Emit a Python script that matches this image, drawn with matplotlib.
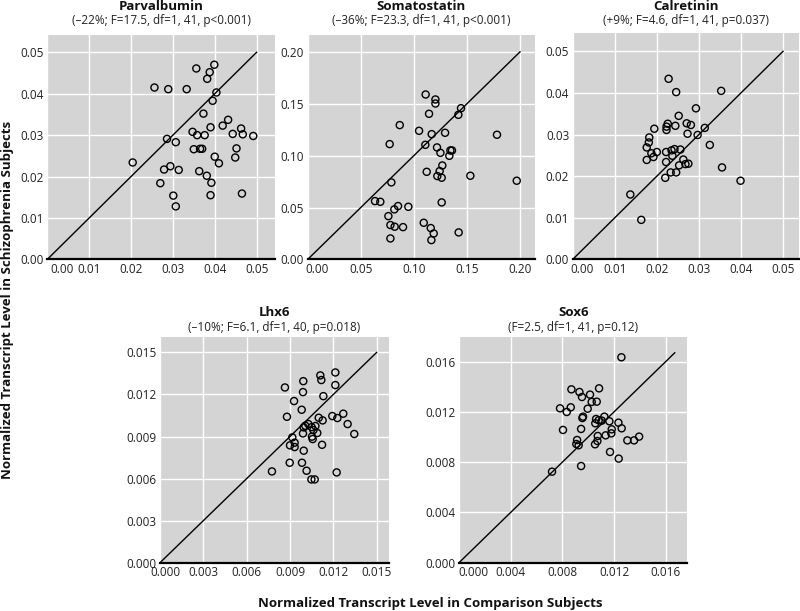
import matplotlib
matplotlib.use("Agg")
import matplotlib.pyplot as plt
import matplotlib.transforms as mtransforms

plt.rcParams['font.family'] = ['Open Sans', 'DejaVu Sans']

# ---------------- data ----------------
titles = ["Parvalbumin", "Somatostatin", "Calretinin", "Lhx6", "Sox6"]
subtitles = ["(\u201322%; F=17.5, df=1, 41, p<0.001)",
             "(\u201336%; F=23.3, df=1, 41, p<0.001)",
             "(+9%; F=4.6, df=1, 41, p=0.037)",
             "(\u201310%; F=6.1, df=1, 40, p=0.018)",
             "(F=2.5, df=1, 41, p=0.12)"]

parv_x = [20.4, 25.6, 28.9, 33.3, 35.6, 38.8, 39.9, 38.2, 40.4, 39.5, 37.3, 43.2, 41.9, 39.0,
          46.3, 44.3, 46.7, 49.2, 34.7, 35.8, 37.6, 28.6, 30.7, 35.0, 36.5, 37.0, 40.0, 45.2,
          44.9, 41.0, 29.4, 27.9, 31.4, 36.3, 38.1, 39.2, 27.0, 30.1, 39.0, 46.5, 30.7]
parv_y = [23.4, 41.5, 41.1, 41.1, 46.1, 45.2, 47.0, 43.6, 40.3, 38.3, 35.2, 33.7, 32.3, 31.9,
          31.6, 30.3, 30.2, 29.8, 30.8, 30.0, 30.0, 29.1, 28.3, 26.6, 26.7, 26.7, 24.8, 26.8,
          24.6, 23.2, 22.5, 21.7, 21.6, 21.3, 20.2, 18.5, 18.4, 15.4, 15.5, 15.9, 12.8]

som_x = [111.1, 120.3, 120.3, 114.3, 144.4, 141.9, 86.7, 104.9, 116.8, 129.4, 178.3, 77.2,
         110.8, 121.8, 125.0, 133.4, 134.4, 135.9, 126.8, 112.1, 124.3, 122.1, 126.2, 153.2,
         196.9, 78.8, 63.4, 68.4, 126.2, 85.1, 94.8, 81.6, 76.0, 77.9, 81.9, 89.8, 109.3,
         115.9, 118.7, 142.2, 77.9, 116.5]
som_y = [158.9, 154.1, 150.2, 140.3, 145.7, 139.3, 129.4, 123.9, 120.7, 122.0, 120.1, 111.1,
         110.4, 107.9, 102.7, 99.8, 105.0, 105.0, 90.5, 84.4, 85.1, 80.3, 78.7, 80.6,
         75.8, 74.2, 56.2, 55.5, 54.9, 51.4, 50.7, 48.2, 41.7, 33.1, 31.5, 31.1, 35.3,
         30.2, 25.0, 26.0, 20.2, 18.6]

cal_x = [22.8, 24.6, 35.3, 29.3, 25.2, 22.6, 22.3, 22.3, 24.4, 27.1, 28.1, 19.4, 31.4, 27.3,
         29.7, 18.2, 18.1, 17.6, 32.6, 18.7, 20.0, 22.2, 23.5, 24.2, 25.6, 23.7, 19.2, 17.6,
         22.2, 26.3, 25.3, 26.8, 27.5, 35.5, 23.3, 24.6, 22.0, 39.9, 13.7, 16.3]
cal_y = [43.4, 40.2, 40.5, 36.3, 34.5, 32.6, 31.9, 31.1, 32.1, 32.7, 32.3, 31.4, 31.6, 30.2,
         29.9, 29.3, 28.1, 26.9, 27.5, 25.5, 25.8, 25.8, 26.2, 26.5, 26.4, 24.9, 24.6, 23.9,
         23.4, 24.0, 22.6, 22.9, 23.0, 22.1, 20.9, 20.9, 19.6, 18.9, 15.6, 9.5]

lhx_x = [12.14, 11.10, 11.17, 9.92, 12.14, 8.65, 9.90, 11.31, 9.28, 9.81, 8.79, 10.99, 11.26,
         11.93, 12.28, 12.69, 12.99, 13.45, 10.27, 10.06, 10.50, 10.76, 9.95, 10.62, 10.89,
         9.90, 10.52, 10.57, 9.16, 9.32, 9.00, 9.32, 11.22, 9.95, 8.98, 9.83, 7.75, 10.15,
         12.23, 10.48, 10.71]
lhx_y = [13.57, 13.36, 13.03, 12.95, 12.67, 12.50, 12.17, 11.88, 11.53, 10.91, 10.41, 10.34,
         10.15, 10.46, 10.32, 10.63, 9.89, 9.18, 9.89, 9.77, 9.67, 9.75, 9.65, 9.46, 9.25,
         9.22, 8.99, 8.82, 8.94, 8.56, 8.37, 8.25, 8.41, 7.99, 7.13, 7.13, 6.51, 6.56,
         6.44, 5.94, 5.94]

sox_x = [12.57, 8.70, 9.32, 10.84, 10.14, 9.52, 10.27, 10.66, 7.82, 8.65, 8.34, 9.96, 9.60,
         9.55, 10.61, 11.25, 10.55, 11.05, 11.64, 12.34, 10.81, 8.05, 9.45, 11.82, 12.59,
         11.79, 11.35, 10.74, 9.14, 10.71, 13.03, 13.55, 13.94, 9.08, 9.26, 10.53, 11.69,
         12.36, 9.45, 7.20]
sox_y = [16.34, 13.79, 13.58, 13.87, 13.37, 13.18, 12.79, 12.81, 12.28, 12.36, 11.99, 12.25,
         11.62, 11.51, 11.43, 11.62, 11.09, 11.30, 11.25, 11.14, 11.33, 10.56, 10.64, 10.61,
         10.69, 10.29, 10.13, 10.08, 9.76, 9.68, 9.73, 9.73, 10.03, 9.44, 9.34, 9.42, 8.81,
         8.28, 7.69, 7.24]

# values above are in thousandths
scale = 1000.0
xs = [parv_x, som_x, cal_x, lhx_x, sox_x]
ys = [parv_y, som_y, cal_y, lhx_y, sox_y]

tick_vals = [[0.00, 0.01, 0.02, 0.03, 0.04, 0.05],
             [0.00, 0.05, 0.10, 0.15, 0.20],
             [0.00, 0.01, 0.02, 0.03, 0.04, 0.05],
             [0.000, 0.003, 0.006, 0.009, 0.012, 0.015],
             [0.000, 0.004, 0.008, 0.012, 0.016]]
tick_fmt = ["%.2f", "%.2f", "%.2f", "%.3f", "%.3f"]
diag_max = [0.05, 0.20, 0.05, 0.015, 0.0167]
xlims = [0.0544, 0.2141, 0.0538, 0.01582, 0.01767]
ylims = [0.0543, 0.2167, 0.0544, 0.0161, 0.01793]

# ---------------- layout (pixels) ----------------
W, H = 800, 611
boxes = [(47.3, 275.0, 34.5, 259.4),
         (307.7, 535.0, 34.5, 259.4),
         (572.7, 799.0, 33.0, 259.4),
         (160.0, 388.5, 337.0, 562.7),
         (459.0, 687.3, 337.3, 562.7)]
first_dx = [3, -2, -2, -10, -1]
title_y = [6, 6, 6, 313, 313]
sub_y = [20.5, 20.5, 20.5, 327.5, 327.5]

fig = plt.figure(figsize=(W / 100, H / 100), dpi=100)
fig.patch.set_facecolor('white')

for i in range(5):
    l, r, t, b = boxes[i]
    ax = fig.add_axes([l / W, 1 - b / H, (r - l) / W, (b - t) / H])
    ax.set_facecolor('#d4d4d4')
    xv = [v / scale for v in xs[i]]
    yv = [v / scale for v in ys[i]]
    ax.plot([0, diag_max[i]], [0, diag_max[i]], color='black', lw=1.0, zorder=2)
    ax.scatter(xv, yv, s=26, facecolors='none', edgecolors='black', linewidths=1.0, zorder=3)
    ax.set_xlim(0, xlims[i])
    ax.set_ylim(0, ylims[i])
    ax.set_xticks(tick_vals[i])
    ax.set_yticks(tick_vals[i])
    ax.set_xticklabels([tick_fmt[i] % v for v in tick_vals[i]])
    ax.set_yticklabels([tick_fmt[i] % v for v in tick_vals[i]])
    ax.grid(True, color='white', lw=1.0)
    ax.set_axisbelow(True)
    for s in ['top', 'right', 'left']:
        ax.spines[s].set_visible(False)
    ax.spines['bottom'].set_color('black')
    ax.spines['bottom'].set_linewidth(1.6)
    ax.tick_params(length=0, pad=2.5, labelsize=8.5, colors='#222222')
    lab = ax.get_xticklabels()[0]
    lab.set_ha('left')
    lab.set_transform(lab.get_transform() +
                      mtransforms.ScaledTranslation(first_dx[i] / 100, 0, fig.dpi_scale_trans))
    cx = (l + r) / 2 / W
    fig.text(cx, 1 - title_y[i] / H, titles[i], ha='center', va='center',
             fontsize=9.5, fontweight='bold', color='#111111')
    fig.text(cx, 1 - sub_y[i] / H, subtitles[i], ha='center', va='center',
             fontsize=8.5, color='#222222')

fig.text(8 / W, 1 - 300 / H, "Normalized Transcript Level in Schizophrenia Subjects",
         rotation=90, ha='center', va='center', fontsize=9.5, fontweight='bold', color='#111111')
fig.text(430 / W, 1 - 604 / H, "Normalized Transcript Level in Comparison Subjects",
         ha='center', va='center', fontsize=9.5, fontweight='bold', color='#111111')

fig.savefig("out.png", dpi=100, facecolor='white')
